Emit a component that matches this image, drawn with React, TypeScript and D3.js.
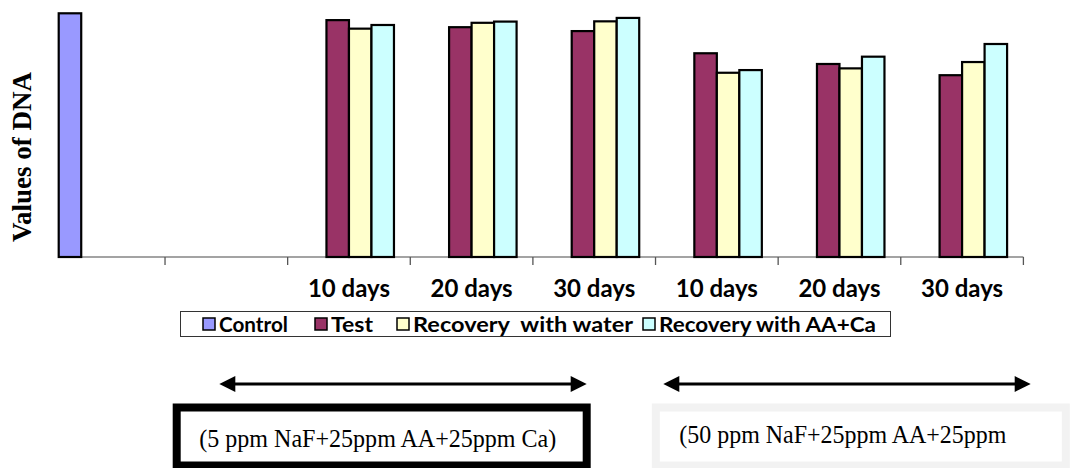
import React, { useEffect, useRef } from 'react';
import * as d3 from 'd3';

// category slots along the x axis (first two hold the control only / nothing)
const categories = ['', '', '10 days', '20 days', '30 days', '10 days', '20 days', '30 days'];
const seriesNames = ['Control', 'Test', 'Recovery  with water', 'Recovery with AA+Ca'];
const seriesColors = ['#9999FF', '#993366', '#FFFFCC', '#CCFFFF'];

// values (no axis scale shown, control = 10)
const controlValues = [10.0, null, null, null, null, null, null, null];
const testValues = [null, null, 9.72, 9.43, 9.27, 8.36, 7.92, 7.46];
const waterValues = [null, null, 9.37, 9.61, 9.67, 7.56, 7.74, 8.0];
const aaCaValues = [null, null, 9.52, 9.66, 9.81, 7.67, 8.22, 8.74];

const groupLabels = ['(5 ppm NaF+25ppm AA+25ppm Ca)', '(50 ppm NaF+25ppm AA+25ppm'];

const App: React.FC = () => {
  const ref = useRef<SVGSVGElement | null>(null);

  useEffect(() => {
    const width = 1070;
    const height = 468;
    const baseY = 257;

    const svg = d3.select(ref.current);
    svg.selectAll('*').remove();
    svg.attr('width', width).attr('height', height);

    const x = d3.scaleBand<number>()
      .domain(categories.map((_d, i) => i))
      .range([42.4, 1023.4])
      .padding(0);

    const inner = d3.scaleBand<number>()
      .domain(d3.range(seriesNames.length))
      .range([0, x.bandwidth()])
      .paddingInner(0)
      .paddingOuter(0.725);

    const y = d3.scaleLinear().domain([0, 10]).range([baseY, 13.3]);

    // axis line + tick marks at band boundaries
    svg.append('line')
      .attr('x1', 58.7).attr('x2', x.range()[1])
      .attr('y1', baseY).attr('y2', baseY)
      .attr('stroke', '#858585').attr('stroke-width', 1.5);

    svg.selectAll('line.tick')
      .data(categories.map((_d, i) => i).slice(1).concat([categories.length]))
      .enter()
      .append('line')
      .attr('class', 'tick')
      .attr('x1', d => 42.4 + d * x.step())
      .attr('x2', d => 42.4 + d * x.step())
      .attr('y1', baseY).attr('y2', baseY + 8)
      .attr('stroke', '#555').attr('stroke-width', 1.3);

    // bars
    const allSeries = [controlValues, testValues, waterValues, aaCaValues];
    allSeries.forEach((vals, s) => {
      svg.append('g')
        .selectAll('rect')
        .data(vals.map((v, i) => ({ v, i })).filter(d => d.v != null))
        .enter()
        .append('rect')
        .attr('x', d => (x(d.i) as number) + (inner(s) as number))
        .attr('y', d => y(d.v as number))
        .attr('width', inner.bandwidth())
        .attr('height', d => baseY - y(d.v as number))
        .attr('fill', seriesColors[s])
        .attr('stroke', '#000')
        .attr('stroke-width', 2.2);
    });

    // category labels
    svg.selectAll('text.cat')
      .data(categories.map((c, i) => ({ c, i })).filter(d => d.c !== ''))
      .enter()
      .append('text')
      .attr('class', 'cat')
      .attr('x', d => (x(d.i) as number) + x.bandwidth() / 2)
      .attr('y', 297)
      .attr('text-anchor', 'middle')
      .attr('font-family', 'Lato, sans-serif')
      .attr('font-weight', 'bold')
      .attr('font-size', '24px')
      .attr('fill', '#000')
      .text(d => d.c);

    // y axis title
    svg.append('text')
      .attr('transform', 'translate(31,157) rotate(-90)')
      .attr('text-anchor', 'middle')
      .attr('font-family', '"Liberation Serif", serif')
      .attr('font-weight', 'bold')
      .attr('font-size', '28px')
      .attr('textLength', 170)
      .attr('lengthAdjust', 'spacingAndGlyphs')
      .text('Values of DNA');

    // legend (Calibri-like widths forced with textLength)
    const legend = svg.append('g');
    legend.append('rect')
      .attr('x', 180.5).attr('y', 311.5)
      .attr('width', 710).attr('height', 25)
      .attr('fill', '#fff').attr('stroke', '#333').attr('stroke-width', 1);
    const legendX = [203, 315, 397, 643];
    const legendW = [69, 42, 220, 217];
    seriesNames.forEach((name, s) => {
      legend.append('rect')
        .attr('x', legendX[s]).attr('y', 318)
        .attr('width', 12).attr('height', 12)
        .attr('fill', seriesColors[s])
        .attr('stroke', '#000').attr('stroke-width', 1.5);
      legend.append('text')
        .attr('x', legendX[s] + 16).attr('y', 332)
        .attr('font-family', 'Lato, sans-serif')
        .attr('font-weight', 'bold')
        .attr('font-size', '21px')
        .attr('textLength', legendW[s])
        .attr('lengthAdjust', 'spacingAndGlyphs')
        .style('white-space', 'pre')
        .text(name);
    });

    // double-headed arrows spanning the two dose groups
    const arrows = [[219.3, 586.7], [663.3, 1030.7]];
    arrows.forEach(([a, b]) => {
      const g = svg.append('g');
      g.append('line')
        .attr('x1', a + 10).attr('x2', b - 10)
        .attr('y1', 384).attr('y2', 384)
        .attr('stroke', '#000').attr('stroke-width', 3);
      g.append('path')
        .attr('d', `M${a},384L${a + 16},376L${a + 16},392Z`)
        .attr('fill', '#000');
      g.append('path')
        .attr('d', `M${b},384L${b - 16},376L${b - 16},392Z`)
        .attr('fill', '#000');
    });

    // boxes with the dose text (narrow Times look: larger size, fixed width)
    const boxes = [
      { x: 176.7, stroke: '#000', tx: 199.3, ty: 447, w: 357 },
      { x: 655.8, stroke: '#f2f2f2', tx: 679.3, ty: 442.5, w: 327 },
    ];
    boxes.forEach((b, i) => {
      svg.append('rect')
        .attr('x', b.x).attr('y', 407.5)
        .attr('width', 410).attr('height', 58)
        .attr('fill', '#fff')
        .attr('stroke', b.stroke).attr('stroke-width', 8);
      svg.append('text')
        .attr('x', b.tx).attr('y', b.ty)
        .attr('font-family', '"Liberation Serif", serif')
        .attr('font-size', '26px')
        .attr('textLength', b.w)
        .attr('lengthAdjust', 'spacingAndGlyphs')
        .text(groupLabels[i]);
    });

    return () => {
      if (ref.current) {
        d3.select(ref.current).selectAll('*').remove();
      }
    };
  }, []);

  return <svg ref={ref} style={{ position: 'absolute', left: 0, top: 0, background: '#fff' }} />;
};

export default App;
